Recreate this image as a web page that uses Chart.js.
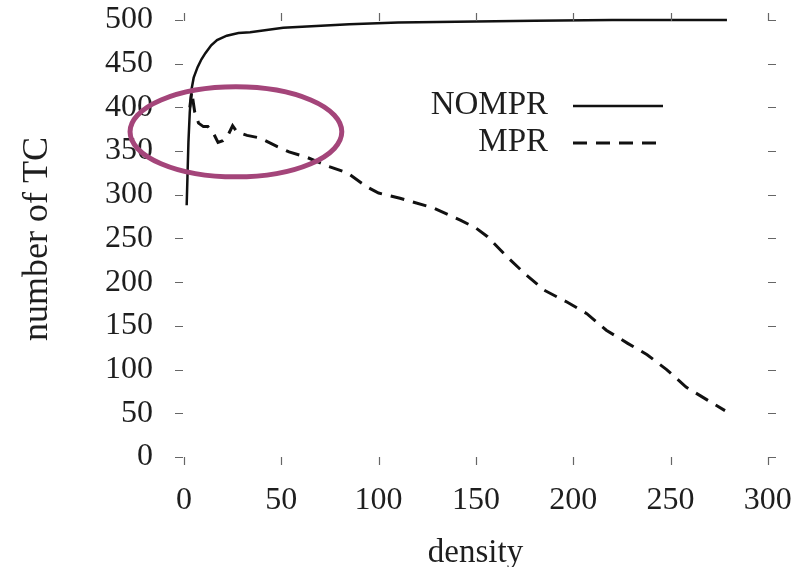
<!DOCTYPE html>
<html><head><meta charset="utf-8">
<script src="https://cdn.jsdelivr.net/npm/chart.js@4.4.1/dist/chart.umd.min.js"></script>
<style>html,body{margin:0;padding:0;background:#fff;} canvas{display:block;}</style>
</head><body>
<canvas id="c" width="806" height="567"></canvas>
<script>
// ---- data ----
const seriesNames = ['NOMPR', 'MPR'];
const nomprDensity = [1.4, 1.8, 2.3, 3, 4, 5, 7, 9, 11, 14, 17, 22, 28, 34, 51, 68, 85, 110, 140, 180, 220, 279];
const nomprTC      = [288, 320, 360, 395, 422, 434, 446, 455, 462, 471, 477, 482, 485, 486, 491, 493, 495, 497, 498, 499, 500, 500];
const mprDensity = [3, 4, 5.5, 7.5, 10, 12.3, 15, 17.5, 20, 22.6, 25, 27.2, 32.4, 39, 48, 54, 63, 75, 84, 94, 100, 111, 128, 142, 150, 156, 166, 176, 185, 197, 207, 217, 228, 238, 248, 258, 269, 278];
const mprTC      = [400, 418, 395, 382, 378, 378, 371, 360, 362, 368, 379, 372, 368, 365, 355, 349, 343, 332, 325, 309, 302, 296, 285, 271, 262, 252, 229, 208, 191, 177, 164, 145, 130, 117, 100, 80, 65, 53];
const xTickValues = [0, 50, 100, 150, 200, 250, 300];
const yTickValues = [0, 50, 100, 150, 200, 250, 300, 350, 400, 450, 500];
// highlighted region (data units): centre and radii
const highlight = { density: 26.7, tc: 372, rDensity: 54.4, rTC: 51.5 };

const toPoints = (xs, ys) => xs.map((x, i) => ({ x: x, y: ys[i] }));
const FONT = "'Liberation Serif','Times New Roman',serif";
const TEXT = '#1e1e1e';

const insideTicks = {
  id: 'insideTicks',
  afterDraw(chart) {
    const { ctx, chartArea: a, scales: { x, y } } = chart;
    const L = 8;
    ctx.save();
    ctx.strokeStyle = '#666';
    ctx.lineWidth = 1.2;
    ctx.beginPath();
    x.ticks.forEach(t => {
      const px = Math.round(x.getPixelForValue(t.value)) + 0.5;
      ctx.moveTo(px, a.bottom); ctx.lineTo(px, a.bottom - L);
      ctx.moveTo(px, a.top); ctx.lineTo(px, a.top + L);
    });
    y.ticks.forEach(t => {
      const py = Math.round(y.getPixelForValue(t.value)) + 0.5;
      ctx.moveTo(a.left, py); ctx.lineTo(a.left + L, py);
      ctx.moveTo(a.right, py); ctx.lineTo(a.right - L, py);
    });
    ctx.stroke();
    ctx.restore();
  }
};

const keyBox = {
  id: 'keyBox',
  afterDraw(chart, args, opts) {
    const ctx = chart.ctx;
    ctx.save();
    ctx.font = opts.fontSize + 'px ' + FONT;
    ctx.textAlign = 'right';
    ctx.textBaseline = 'middle';
    chart.data.datasets.forEach((ds, i) => {
      const yy = opts.y + i * opts.rowGap;
      ctx.fillStyle = TEXT;
      ctx.fillText(ds.label, opts.textRight, yy);
      ctx.strokeStyle = ds.borderColor;
      ctx.lineWidth = ds.borderWidth;
      ctx.setLineDash(ds.borderDash || []);
      ctx.beginPath();
      ctx.moveTo(opts.lineStart, yy + 1);
      ctx.lineTo(opts.lineEnd, yy + 1);
      ctx.stroke();
    });
    ctx.restore();
  }
};

const highlightRing = {
  id: 'highlightRing',
  afterDatasetsDraw(chart) {
    const { ctx, scales: { x, y } } = chart;
    const cx = x.getPixelForValue(highlight.density);
    const cy = y.getPixelForValue(highlight.tc);
    const rx = Math.abs(x.getPixelForValue(highlight.density + highlight.rDensity) - cx);
    const ry = Math.abs(y.getPixelForValue(highlight.tc + highlight.rTC) - cy);
    ctx.save();
    ctx.strokeStyle = '#a4457a';
    ctx.lineWidth = 5;
    ctx.beginPath();
    ctx.ellipse(cx, cy, rx, ry, 0, 0, Math.PI * 2);
    ctx.stroke();
    ctx.restore();
  }
};

new Chart(document.getElementById('c'), {
  type: 'line',
  data: {
    datasets: [
      { label: seriesNames[0], data: toPoints(nomprDensity, nomprTC), borderColor: '#111', borderWidth: 2.5,
        pointRadius: 0, tension: 0, fill: false },
      { label: seriesNames[1], data: toPoints(mprDensity, mprTC), borderColor: '#111', borderWidth: 3,
        borderDash: [14, 9], pointRadius: 0, tension: 0, fill: false }
    ]
  },
  options: {
    responsive: false,
    animation: false,
    devicePixelRatio: 1,
    layout: { padding: { top: 13, right: 30, left: 0, bottom: 0 } },
    plugins: {
      legend: { display: false },
      tooltip: { enabled: false },
      keyBox: { fontSize: 33, textRight: 548, y: 105, rowGap: 37, lineStart: 573, lineEnd: 663 }
    },
    scales: {
      x: {
        type: 'linear', min: -4.6, max: 304.2,
        afterBuildTicks: s => { s.ticks = xTickValues.map(v => ({ value: v })); },
        afterFit: s => { s.height = 102; s.paddingLeft = 0; s.paddingRight = 0; },
        grid: { display: false, drawTicks: false },
        border: { display: false },
        ticks: { font: { family: FONT, size: 32 }, color: TEXT, padding: 16, maxRotation: 0, autoSkip: false },
        title: { display: true, text: 'density', color: TEXT, padding: 0,
                 font: { family: FONT, size: 33, lineHeight: 0.85 } }
      },
      y: {
        type: 'linear', min: -9.2, max: 508,
        afterBuildTicks: s => { s.ticks = yTickValues.map(v => ({ value: v })); },
        afterFit: s => { s.width = 175; s.paddingTop = 0; s.paddingBottom = 0; },
        grid: { display: false, drawTicks: false },
        border: { display: false },
        ticks: { font: { family: FONT, size: 32 }, color: TEXT, padding: 22, autoSkip: false },
        title: { display: true, text: 'number of TC', color: TEXT, padding: { top: 16, bottom: 0 },
                 font: { family: FONT, size: 36 } }
      }
    }
  },
  plugins: [insideTicks, keyBox, highlightRing]
});
</script>
</body></html>
